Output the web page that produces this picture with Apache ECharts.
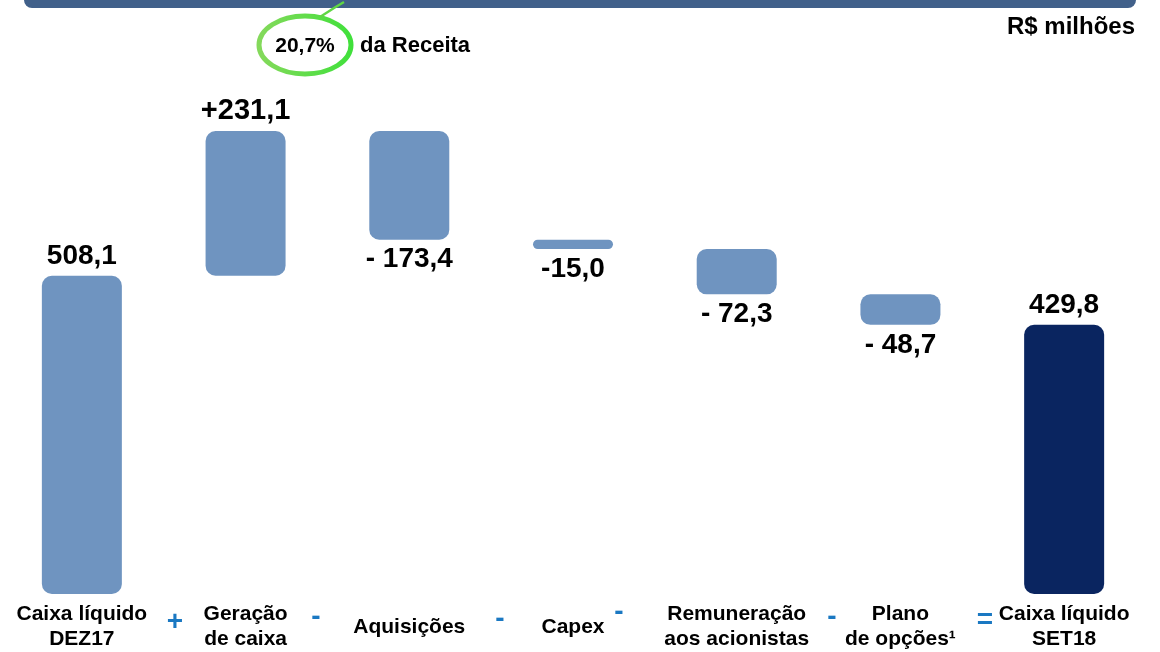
<!DOCTYPE html>
<html>
    <head>
        <meta charset="utf-8">
        <title>caixa-liquido</title>
        <style>*{margin:0;padding:0}body{background:#fff}.chart{width:1160px;height:652px}</style>
    </head>
    <body>
        <div class="chart"></div>
        <script type="text/javascript" src="https://fastly.jsdelivr.net/npm/echarts@6/dist/echarts.min.js"></script>
        <script>
            // categorias e valores (R$ milhões)
            const categorias = ['Caixa líquido\nDEZ17', 'Geração\nde caixa', 'Aquisições', 'Capex', 'Remuneração\naos acionistas', 'Plano\nde opções¹', 'Caixa líquido\nSET18'];
            const variacoes = [508.1, 231.1, -173.4, -15.0, -72.3, -48.7, 429.8];
            const rotulos = ['508,1', '+231,1', '- 173,4', '-15,0', '- 72,3', '- 48,7', '429,8'];
            const totais = [true, false, false, false, false, false, true];

            const corBarra = '#6f94c0';
            const corTotal = '#0a2560';
            const corSinal = '#1a78c2';

            // base invisível e altura de cada degrau
            let acumulado = 0;
            const base = [];
            const altura = [];
            variacoes.forEach((v, i) => {
                if (totais[i]) {
                    base.push(0);
                    altura.push(Math.abs(v));
                    acumulado = v;
                } else if (v >= 0) {
                    base.push(acumulado);
                    altura.push(v);
                    acumulado += v;
                } else {
                    acumulado += v;
                    base.push(acumulado);
                    altura.push(-v);
                }
            });

            const fonte = '"Liberation Sans", Arial, sans-serif';
            const $myChart = echarts.init(document.querySelector('.chart'));

            const sinais = [
                { t: '+', x: 175, y: 622 },
                { t: '-', x: 316, y: 617 },
                { t: '-', x: 500, y: 619 },
                { t: '-', x: 619, y: 612 },
                { t: '-', x: 832, y: 617 },
                { t: '=', x: 985, y: 620 }
            ];

            const verde = new echarts.graphic.LinearGradient(0, 0, 1, 0, [
                { offset: 0, color: '#86d95c' },
                { offset: 1, color: '#3fe03a' }
            ]);

            const opt = {
                animation: false,
                grid: { left: 0, right: 14, top: 93, bottom: 57, containLabel: false },
                xAxis: {
                    type: 'category',
                    data: categorias,
                    axisLine: { show: false },
                    axisTick: { show: false },
                    axisLabel: {
                        interval: 0,
                        margin: 33,
                        verticalAlign: 'middle',
                        color: '#000',
                        fontFamily: fonte,
                        fontWeight: 'bold',
                        fontSize: 21,
                        lineHeight: 25
                    }
                },
                yAxis: { type: 'value', min: 0, max: 800, show: false, splitLine: { show: false } },
                series: [
                    {
                        type: 'bar',
                        stack: 'w',
                        silent: true,
                        itemStyle: { color: 'transparent' },
                        data: base
                    },
                    {
                        type: 'bar',
                        stack: 'w',
                        barWidth: 80,
                        data: altura.map((h, i) => ({
                            value: h,
                            itemStyle: {
                                color: i === altura.length - 1 ? corTotal : corBarra,
                                borderRadius: 10
                            },
                            label: {
                                show: true,
                                position: (totais[i] || variacoes[i] > 0) ? 'top' : 'bottom',
                                distance: 6,
                                formatter: rotulos[i],
                                color: '#000',
                                fontFamily: fonte,
                                fontWeight: 'bold',
                                fontSize: i === 1 ? 29 : 28
                            }
                        }))
                    }
                ],
                graphic: [
                    {
                        type: 'rect',
                        shape: { x: 24, y: -12, width: 1112, height: 20, r: 8 },
                        style: { fill: '#41608a' }
                    },
                    {
                        type: 'text',
                        x: 1135, y: 27,
                        style: { text: 'R$ milhões', align: 'right', verticalAlign: 'middle', fill: '#000', font: 'bold 24px ' + fonte }
                    },
                    {
                        type: 'ellipse',
                        shape: { cx: 305, cy: 45, rx: 46, ry: 29 },
                        style: { fill: 'none', stroke: verde, lineWidth: 5 }
                    },
                    {
                        type: 'polyline',
                        shape: { points: [[320, 17], [334, 8], [344, 2]] },
                        style: { stroke: '#5fd644', lineWidth: 2.5, fill: 'none' }
                    },
                    {
                        type: 'text',
                        x: 305, y: 46,
                        style: { text: '20,7%', align: 'center', verticalAlign: 'middle', fill: '#000', font: 'bold 21px ' + fonte }
                    },
                    {
                        type: 'text',
                        x: 360, y: 46,
                        style: { text: 'da Receita', align: 'left', verticalAlign: 'middle', fill: '#000', font: 'bold 22px ' + fonte }
                    }
                ].concat(sinais.map(s => ({
                    type: 'text',
                    x: s.x, y: s.y,
                    style: { text: s.t, align: 'center', verticalAlign: 'middle', fill: corSinal, font: 'bold 28px ' + fonte }
                })))
            };
            $myChart.setOption(opt);
        </script>
    </body>
</html>
